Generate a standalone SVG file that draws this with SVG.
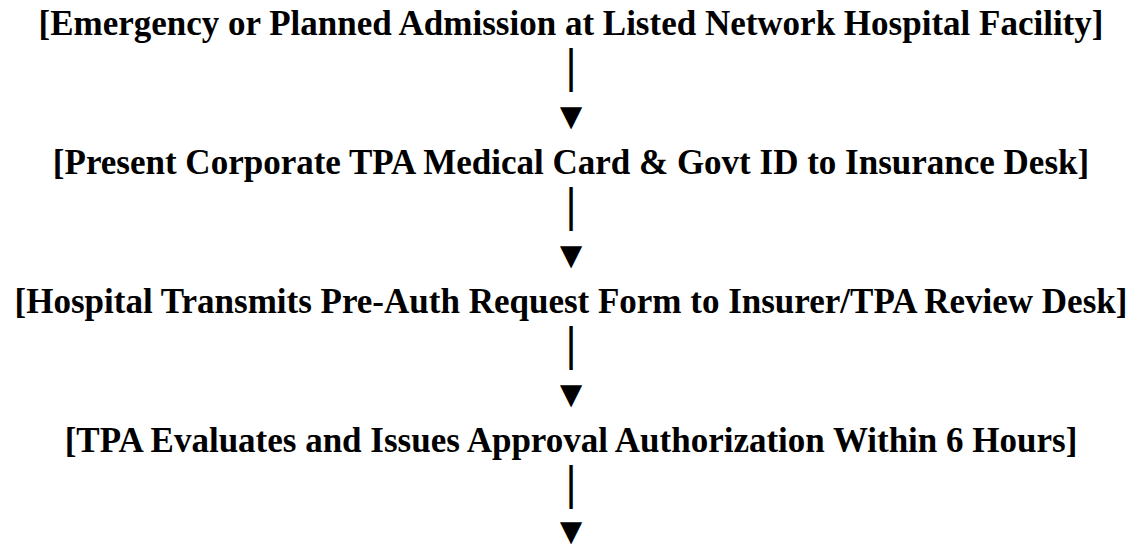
<svg xmlns="http://www.w3.org/2000/svg" width="1142" height="544" viewBox="0 0 1142 544">
<style>
.t{font-family:"Liberation Serif","Times New Roman",serif;font-weight:bold;font-size:35px;fill:#000;text-anchor:middle}
.bar{font-family:"Liberation Serif","Times New Roman",serif;font-weight:bold;font-size:48px;fill:#000;text-anchor:middle}
.tri{font-family:"Liberation Serif","DejaVu Serif",serif;font-weight:bold;font-size:38px;fill:#000;text-anchor:middle}
</style>
<rect width="1142" height="544" fill="#fff"/>
<g id="node1"><text class="t" x="571" y="35">[Emergency or Planned Admission at Listed Network Hospital Facility]</text></g>
<g id="node2"><text class="t" x="571" y="174">[Present Corporate TPA Medical Card &amp; Govt ID to Insurance Desk]</text></g>
<g id="node3"><text class="t" x="571" y="313">[Hospital Transmits Pre-Auth Request Form to Insurer/TPA Review Desk]</text></g>
<g id="node4"><text class="t" x="571" y="452">[TPA Evaluates and Issues Approval Authorization Within 6 Hours]</text></g>
<g id="connectors">
<text class="bar" x="571" y="82">|</text>
<text class="tri" x="571" y="128.6">▼</text>
<text class="bar" x="571" y="221">|</text>
<text class="tri" x="571" y="267.6">▼</text>
<text class="bar" x="571" y="360">|</text>
<text class="tri" x="571" y="406.6">▼</text>
<text class="bar" x="571" y="499">|</text>
<text class="tri" x="571" y="544">▼</text>
</g>
</svg>
